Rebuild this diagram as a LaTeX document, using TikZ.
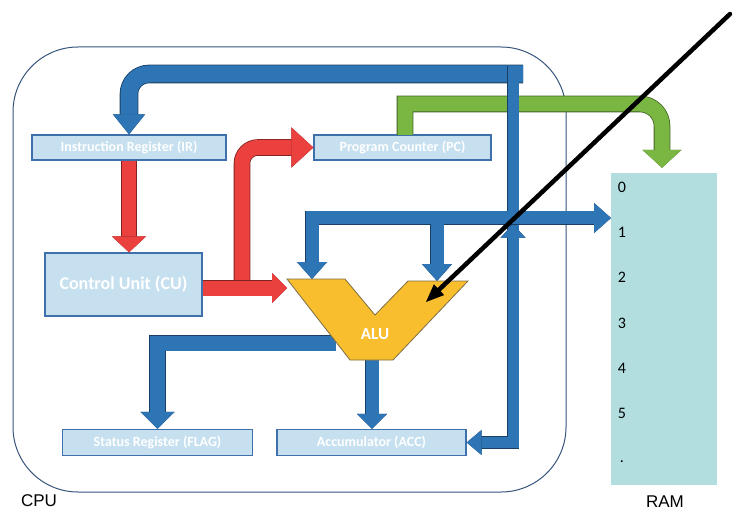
\documentclass[tikz,border=0pt]{standalone}
\usepackage{fontspec}
\setmainfont{Carlito}
\newfontfamily\arialf{Liberation Sans}
\usetikzlibrary{arrows.meta,calc}
\definecolor{arrblue}{RGB}{46,117,182}
\definecolor{arrred}{RGB}{234,64,62}
\definecolor{arrgreen}{RGB}{122,182,66}
\definecolor{aluyellow}{RGB}{249,190,46}
\definecolor{aluline}{RGB}{125,110,70}
\definecolor{boxfill}{RGB}{198,224,240}
\definecolor{boxline}{RGB}{62,112,172}
\definecolor{ramfill}{RGB}{178,222,224}
\definecolor{cpuline}{RGB}{55,85,125}
\tikzset{
  fat/.style n args={4}{draw=#1, line width=#2,
    -{Triangle[width=#3,length=#4,line width=0pt]},
    preaction={draw=#1!55!black, line width=#2+1.6pt,
      -{Triangle[width=#3,length=#4,line width=1.6pt]}}},
  fatb/.style n args={4}{draw=#1, line width=#2,
    {Triangle[width=#3,length=#4,line width=0pt]}-{Triangle[width=#3,length=#4,line width=0pt]},
    preaction={draw=#1!55!black, line width=#2+1.6pt,
      {Triangle[width=#3,length=#4,line width=1.6pt]}-{Triangle[width=#3,length=#4,line width=1.6pt]}}},
  reg/.style={draw=boxline, fill=boxfill, line width=1.3pt, text=white,
    font=\bfseries\fontsize{14}{16}\selectfont, inner sep=0pt},
  digit/.style={font=\fontsize{16}{18}\selectfont, text=black, text height=10pt, text depth=0pt, inner sep=0pt},
  lbl/.style={font=\arialf\fontsize{17}{19}\selectfont, text=black, inner sep=0pt}
}
\begin{document}
\begin{tikzpicture}[x=1pt,y=-1pt]
\useasboundingbox (0,0) rectangle (739,513);
% CPU frame
\draw[cpuline, line width=1pt, rounded corners=65pt] (13,47) rectangle (566,492);
% boxes
\node[reg, minimum width=194pt, minimum height=25pt] (IR) at (129,147.5) {Instruction Register (IR)};
\node[reg, minimum width=177pt, minimum height=25pt] (PC) at (402.5,147.5) {Program Counter (PC)};
\node[reg, minimum width=157pt, minimum height=63pt, font=\bfseries\fontsize{18}{20}\selectfont] (CU) at (123.5,284.5) {Control Unit (CU)};
\node[reg, minimum width=190pt, minimum height=26pt] (FLAG) at (157.5,442.5) {Status Register (FLAG)};
\node[reg, minimum width=189pt, minimum height=26pt] (ACC) at (371.5,442.5) {Accumulator (ACC)};
% RAM
\node[fill=ramfill, minimum width=106pt, minimum height=312pt, inner sep=0pt] (RAM) at (664,329) {};
\node[digit] (r0) at (622,188) {0};
\node[digit] (r1) at (622,233) {1};
\node[digit] (r2) at (622,278) {2};
\node[digit] (r3) at (622,323) {3};
\node[digit] (r4) at (622,368) {4};
\node[digit] (r5) at (622,413) {5};
\node[digit] (r6) at (622,457) {.};
\node[lbl] (cpulbl) at (39,501) {CPU};
\node[lbl] (ramlbl) at (665,502) {RAM};
% coordinates
\coordinate (bustop) at (523,74);
\coordinate (busT) at (513,66);
\coordinate (busmid) at (513,290);
\coordinate (busup) at (513,224);
\coordinate (ramin) at (611,218);
\coordinate (aluTL) at (312,279);
\coordinate (aluTR) at (437,281);
\coordinate (busR) at (437,224.5);
\coordinate (aluW) at (336,343);
\coordinate (aluS) at (372,355);
\coordinate (aluin) at (287,288);
\coordinate (redsplit) at (242,281);
\coordinate (pcout) at (405,135);
\coordinate (gleft) at (405,104);
\coordinate (gturn) at (662,104);
\coordinate (blkstart) at (730,14);
\coordinate (blktip) at (426,302);
% green PC -> RAM
\draw[fat={arrgreen}{15pt}{39pt}{18pt}, shorten >=5pt] (pcout) -- (gleft) [rounded corners=22pt] -- (gturn) -- (gturn |- RAM.north);
% blue top bar -> IR
\draw[fat={arrblue}{17pt}{32pt}{20pt}, rounded corners=20pt] (bustop) -| (IR.north);
% bus down to ACC
\draw[fat={arrblue}{11pt}{25pt}{15pt}] (busT) |- (ACC.east);
\draw[fat={arrblue}{11pt}{25pt}{14pt}] (busmid) -- (busup);
% data bus to RAM and ALU
\draw[fatb={arrblue}{13pt}{30pt}{17pt}] (aluTL) |- (ramin);
\draw[fat={arrblue}{13pt}{30pt}{17pt}] (busR) -- (aluTR);
% ALU outputs
\draw[fat={arrblue}{15pt}{34pt}{17pt}] (aluW) -| (FLAG.north);
\draw[fat={arrblue}{13pt}{30pt}{15pt}] (aluS) -- (aluS |- ACC.north);
% red arrows
\draw[fat={arrred}{14pt}{34pt}{16pt}] (IR.south) -- (IR.south |- CU.north);
\draw[fat={arrred}{15pt}{40pt}{22pt}, rounded corners=16pt] (redsplit) |- (PC.west);
\draw[fat={arrred}{15pt}{30pt}{15pt}] (CU.east |- aluin) -- (aluin);
% ALU
\draw[fill=aluyellow, draw=aluline, line width=0.8pt] (287,279) -- (345,279) -- (375,315) -- (408,281) -- (468,281) -- (393,360) -- (350,360) -- cycle;
\node[font=\bfseries\fontsize{17}{19}\selectfont, text=white] (alu) at (375,334) {ALU};
% black pointer
\draw[black, line width=4.5pt, line cap=round, -{Triangle[length=18pt,width=15pt,line width=0pt]}] (blkstart) -- (blktip);
\end{tikzpicture}
\end{document}
